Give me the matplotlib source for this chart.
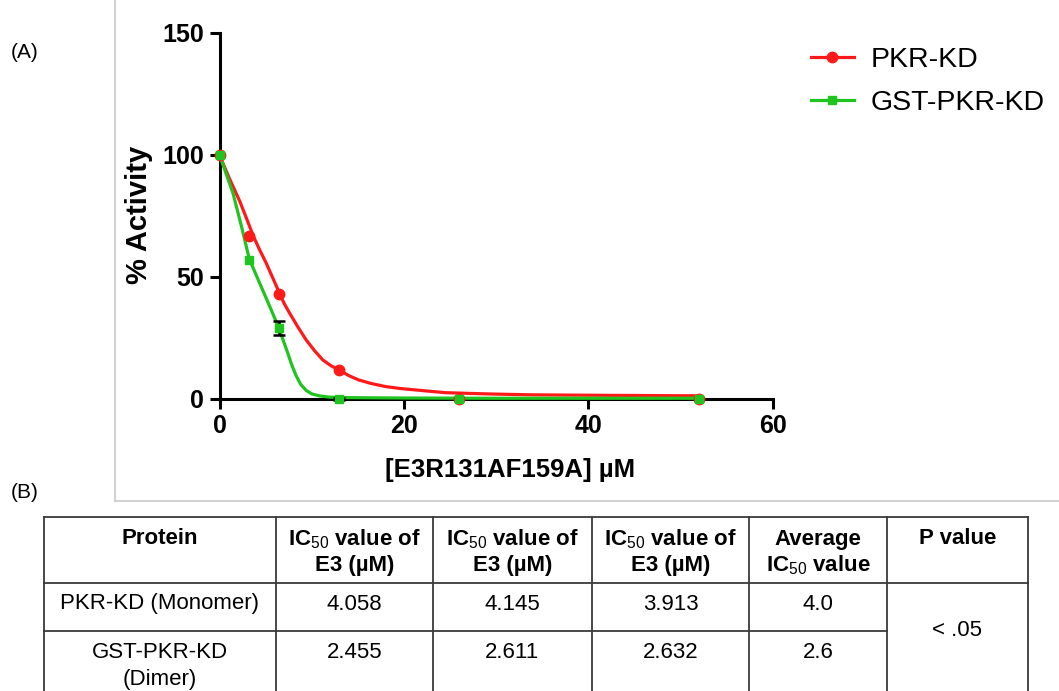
import matplotlib
matplotlib.use("Agg")
import matplotlib.pyplot as plt
from matplotlib.lines import Line2D

plt.rcParams['font.family'] = ['Liberation Sans', 'DejaVu Sans']
plt.rcParams['mathtext.fontset'] = 'custom'
plt.rcParams['mathtext.rm'] = 'Liberation Sans'
plt.rcParams['mathtext.it'] = 'Liberation Sans:italic'
plt.rcParams['mathtext.bf'] = 'Liberation Sans:bold'

# ---- dose-response data (panel A) ----
conc = [0, 3.25, 6.5, 13, 26, 52]
pkr_kd = [100, 67, 43, 12, 0, 0]
gst_pkr_kd = [100, 57, 29, 0, 0, 0]
gst_err = [0, 0, 2.8, 0.4, 0, 0]

# fitted inhibition curves
pkr_fit_x = [0, 0.5, 1.0, 1.6, 2.2, 2.9, 3.6, 4.3, 5.05, 5.8, 6.5, 7.0, 7.6,
             8.5, 9.4, 10.3, 11.2, 12.1, 13.0, 14.0, 15.1, 16.5, 18.0, 19.6,
             21.3, 23.0, 24.5, 27.0, 30.0, 34.0, 38.0, 42.0, 47.0, 52.0]
pkr_fit_y = [100, 95.5, 91, 86, 81, 74.3, 67.4, 61.5, 55.8, 49.4, 43.4, 39.2,
             35.2, 29.5, 24.2, 19.8, 16.0, 13.6, 11.9, 9.6, 7.8, 6.3, 5.1,
             4.3, 3.7, 3.1, 2.6, 2.3, 2.0, 1.7, 1.6, 1.5, 1.4, 1.3]
gst_fit_x = [0, 0.7, 1.45, 2.4, 3.25, 3.9, 4.5, 5.05, 5.6, 6.05, 6.5, 6.95,
             7.4, 7.85, 8.3, 8.8, 9.4, 10.0, 10.8, 11.8, 13.0, 16.0, 20.0,
             30.0, 52.0]
gst_fit_y = [100, 92.5, 84.5, 70.5, 57.1, 51.5, 46.2, 41.4, 36.6, 32.5, 28.4,
             23.6, 18.8, 13.8, 9.6, 6.0, 3.5, 2.1, 1.3, 0.8, 0.6, 0.5, 0.4,
             0.3, 0.3]

x_ticks = [0, 20, 40, 60]
y_ticks = [0, 50, 100, 150]
x_title = "[E3R131AF159A] µM"
y_title = "% Activity"
series_names = ["PKR-KD", "GST-PKR-KD"]

# ---- IC50 table (panel B) ----
col_headers = [
    ["Protein"],
    [r"IC$_{50}$ value of", "E3 (µM)"],
    [r"IC$_{50}$ value of", "E3 (µM)"],
    [r"IC$_{50}$ value of", "E3 (µM)"],
    ["Average", r"IC$_{50}$ value"],
    ["P value"],
]
proteins = [["PKR-KD (Monomer)"], ["GST-PKR-KD", "(Dimer)"]]
ic50_rep1 = ["4.058", "2.455"]
ic50_rep2 = ["4.145", "2.611"]
ic50_rep3 = ["3.913", "2.632"]
ic50_avg = ["4.0", "2.6"]
p_value = "< .05"

W, H = 1059, 691
fig = plt.figure(figsize=(W / 100, H / 100), dpi=100)


def fx(x):
    return x / W


def fy(y):
    return 1 - y / H


RED = "#ff1a1a"
GREEN = "#1fc41f"

# plot area
left, right, top, bottom = 219.5, 773, 33, 399
ax = fig.add_axes([fx(left), fy(bottom), fx(right - left), (bottom - top) / H])
ax.plot(pkr_fit_x, pkr_fit_y, color=RED, lw=2.3, clip_on=False, zorder=3,
        solid_joinstyle="round")
ax.plot(gst_fit_x, gst_fit_y, color=GREEN, lw=2.3, clip_on=False, zorder=4,
        solid_joinstyle="round")

# error bars only where a spread was measured
err_x = [c for c, e in zip(conc, gst_err) if e > 0]
err_y = [v for v, e in zip(gst_pkr_kd, gst_err) if e > 0]
err_v = [e for e in gst_err if e > 0]
ax.errorbar(err_x, err_y, yerr=err_v, fmt="none", ecolor="black",
            elinewidth=1.8, capsize=4, capthick=1.8, zorder=5, clip_on=False)
ax.plot(conc, pkr_kd, "o", color=RED, ms=7.5, clip_on=False, zorder=6)
ax.plot(conc, gst_pkr_kd, "s", color=GREEN, ms=6, clip_on=False, zorder=7)

ax.set_xlim(0, 60)
ax.set_ylim(0, 150)
ax.set_xticks(x_ticks)
ax.set_yticks(y_ticks)
for s in ("top", "right"):
    ax.spines[s].set_visible(False)
for s in ("left", "bottom"):
    ax.spines[s].set_linewidth(2.2)
ax.tick_params(direction="out", length=7, width=2.2, pad=4,
               labelsize=18)
for lab in ax.get_xticklabels() + ax.get_yticklabels():
    lab.set_fontweight("bold")

fig.text(fx(510), fy(470), x_title, ha="center", va="center",
         fontsize=18.5, fontweight="bold")
fig.text(fx(139), fy(215), y_title, ha="center", va="center",
         rotation=90, fontsize=21, fontweight="bold")

# legend
leg_handles = [
    Line2D([], [], color=RED, lw=2.3, marker="o", ms=7.5),
    Line2D([], [], color=GREEN, lw=2.3, marker="s", ms=6),
]
fig.legend(leg_handles, series_names, loc="upper left",
           bbox_to_anchor=(fx(811), fy(47)), frameon=False, fontsize=20.5,
           handlelength=1.5, handletextpad=0.6, labelspacing=0.58,
           borderaxespad=0, borderpad=0)

# panel labels
fig.text(fx(25), fy(52), "(A)", ha="center", va="center", fontsize=15)
fig.text(fx(25), fy(492), "(B)", ha="center", va="center", fontsize=15)

# frame around panel A
frame_kw = dict(color="#c9c9c9", lw=1.2, transform=fig.transFigure)
fig.add_artist(Line2D([fx(115), fx(115)], [fy(0), fy(501)], **frame_kw))
fig.add_artist(Line2D([fx(115), fx(W)], [fy(501), fy(501)], **frame_kw))

# table grid
col_edges = [44, 276, 433, 592, 749, 887, 1028]
tbl_top, head_bot, row1_bot, tbl_bot = 517, 583, 631, 691
grid_kw = dict(color="#3a3a3a", lw=1.3, transform=fig.transFigure)
fig.add_artist(Line2D([fx(col_edges[0]), fx(col_edges[-1])],
                      [fy(tbl_top)] * 2, **grid_kw))
fig.add_artist(Line2D([fx(col_edges[0]), fx(col_edges[-1])],
                      [fy(head_bot)] * 2, **grid_kw))
fig.add_artist(Line2D([fx(col_edges[0]), fx(col_edges[-2])],
                      [fy(row1_bot)] * 2, **grid_kw))
for xe in col_edges:
    fig.add_artist(Line2D([fx(xe)] * 2, [fy(tbl_top), fy(tbl_bot)], **grid_kw))

centers = [(a + b) / 2 for a, b in zip(col_edges[:-1], col_edges[1:])]
FS = 16
line_gap = 26

for cx, lines in zip(centers, col_headers):
    for i, t in enumerate(lines):
        fig.text(fx(cx), fy(539 + i * line_gap), t, ha="center", va="center",
                 fontsize=FS, fontweight="bold")

row_y = [604, 653]
for r in range(2):
    for i, t in enumerate(proteins[r]):
        fig.text(fx(centers[0]), fy(row_y[r] + i * 27), t, ha="center",
                 va="center", fontsize=FS)
    for c, col in enumerate([ic50_rep1, ic50_rep2, ic50_rep3, ic50_avg]):
        fig.text(fx(centers[c + 1]), fy(row_y[r]), col[r], ha="center",
                 va="center", fontsize=FS)
fig.text(fx(centers[5]), fy(630), p_value, ha="center", va="center",
         fontsize=FS)

fig.savefig("out.png", dpi=100)
